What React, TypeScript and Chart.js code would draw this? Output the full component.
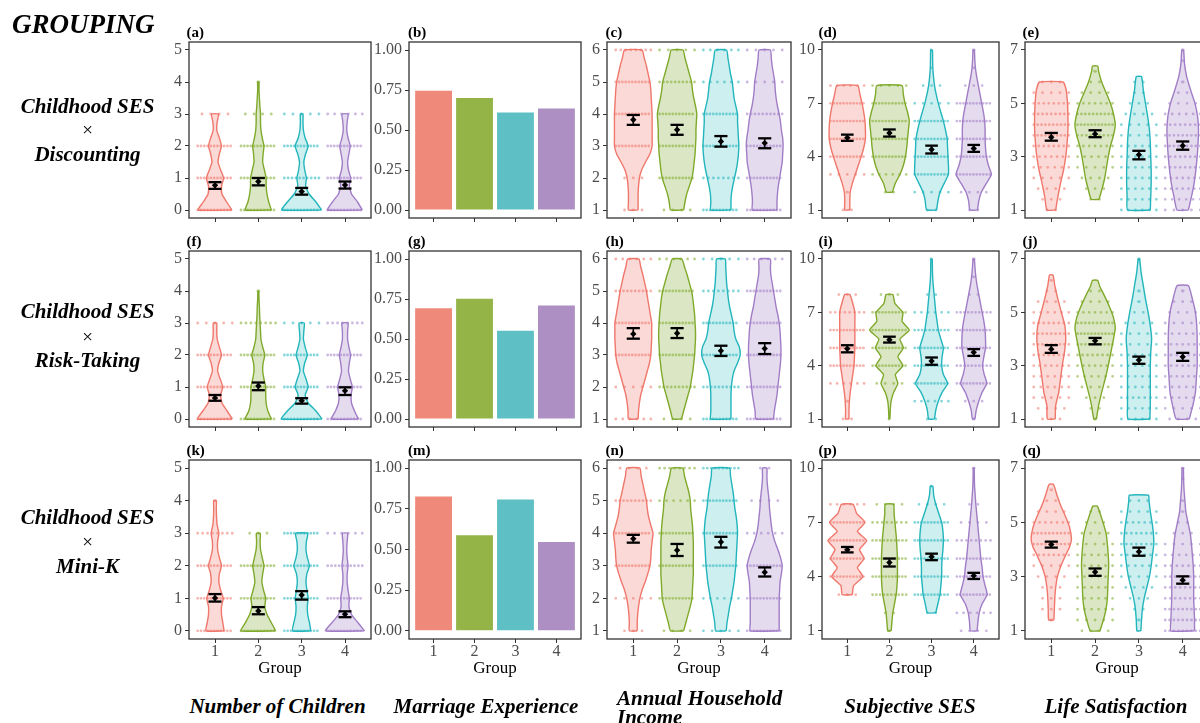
import React, { useEffect, useRef } from 'react';
import { Chart, registerables } from 'chart.js';
Chart.register(...registerables);

const SERIF = "'Liberation Serif', 'Times New Roman', Times, serif";
Chart.defaults.font.family = SERIF;

// ---------- shared ----------
const GROUPS = [1, 2, 3, 4];
const LINE_COLORS = ['#EF776C', '#7FA92B', '#22B5BC', '#A17DC6'];
const FILL_COLORS = ['rgba(239,119,108,0.28)', 'rgba(127,169,43,0.28)', 'rgba(34,181,188,0.22)', 'rgba(161,125,198,0.28)'];
const DOT_COLORS = ['rgba(239,119,108,0.55)', 'rgba(127,169,43,0.55)', 'rgba(34,181,188,0.55)', 'rgba(161,125,198,0.55)'];
const BAR_COLORS = ['#EF8A7B', '#94B447', '#5EC0C4', '#AD8FC3'];

// ---------- Number of Children ----------
const CH_TICKS = [0, 1, 2, 3, 4, 5];
const CH_Y = [0, 0.25, 0.5, 0.75, 1, 1.25, 1.5, 1.75, 2, 2.25, 2.5, 2.75, 3, 3.25, 3.5, 3.75, 4];
const CH_LV = [0, 1, 2, 3, 4];

const A_W = [
  [0.39, 0.27, 0.16, 0.15, 0.2, 0.13, 0.07, 0.1, 0.15, 0.1, 0.04, 0.05, 0.08],
  [0.3, 0.24, 0.2, 0.18, 0.18, 0.14, 0.1, 0.11, 0.13, 0.09, 0.06, 0.05, 0.05, 0.035, 0.025, 0.015, 0.015],
  [0.46, 0.33, 0.17, 0.09, 0.11, 0.07, 0.05, 0.09, 0.15, 0.08, 0.04, 0.03, 0.03],
  [0.4, 0.29, 0.15, 0.1, 0.13, 0.08, 0.06, 0.09, 0.12, 0.07, 0.04, 0.05, 0.07],
];
const A_DOTS = [[45, 30, 14, 4, 0], [40, 18, 28, 4, 1], [45, 10, 14, 5, 0], [45, 14, 12, 6, 0]];
const A_MEAN = [0.77, 0.89, 0.58, 0.78];
const A_LO = [0.66, 0.77, 0.48, 0.67];
const A_HI = [0.87, 1.0, 0.69, 0.89];

const F_W = [
  [0.4, 0.28, 0.16, 0.13, 0.18, 0.12, 0.06, 0.09, 0.15, 0.1, 0.05, 0.04, 0.04],
  [0.3, 0.22, 0.18, 0.17, 0.17, 0.13, 0.1, 0.11, 0.15, 0.1, 0.06, 0.05, 0.04, 0.03, 0.025, 0.015, 0.01],
  [0.47, 0.33, 0.15, 0.08, 0.15, 0.1, 0.04, 0.07, 0.13, 0.08, 0.04, 0.05, 0.06],
  [0.31, 0.22, 0.15, 0.14, 0.17, 0.12, 0.08, 0.1, 0.13, 0.09, 0.06, 0.06, 0.07],
];
const F_DOTS = [[45, 18, 16, 5, 0], [45, 25, 30, 8, 1], [45, 14, 16, 5, 0], [40, 12, 16, 8, 0]];
const F_MEAN = [0.66, 1.03, 0.57, 0.88];
const F_LO = [0.57, 0.9, 0.48, 0.75];
const F_HI = [0.75, 1.14, 0.65, 0.99];

const K_W = [
  [0.21, 0.18, 0.15, 0.15, 0.19, 0.13, 0.09, 0.1, 0.15, 0.1, 0.06, 0.06, 0.09, 0.05, 0.035, 0.03, 0.03],
  [0.4, 0.3, 0.2, 0.15, 0.17, 0.12, 0.08, 0.1, 0.13, 0.09, 0.05, 0.04, 0.045],
  [0.21, 0.18, 0.14, 0.13, 0.15, 0.12, 0.1, 0.12, 0.18, 0.13, 0.1, 0.11, 0.14],
  [0.45, 0.3, 0.15, 0.09, 0.1, 0.07, 0.05, 0.05, 0.07, 0.05, 0.04, 0.05, 0.06],
];
const K_DOTS = [[40, 30, 20, 8, 1], [45, 16, 12, 3, 0], [30, 20, 25, 12, 0], [45, 14, 10, 6, 0]];
const K_MEAN = [1.01, 0.61, 1.1, 0.51];
const K_LO = [0.9, 0.51, 0.96, 0.42];
const K_HI = [1.13, 0.73, 1.22, 0.6];

// ---------- Marriage Experience ----------
const MAR_TICKS = [0, 0.25, 0.5, 0.75, 1];
const B_VAL = [0.745, 0.7, 0.61, 0.635];
const G_VAL = [0.692, 0.752, 0.552, 0.71];
const M_VAL = [0.825, 0.588, 0.807, 0.546];

// ---------- Annual Household Income ----------
const INC_TICKS = [1, 2, 3, 4, 5, 6];
const INC_Y = [1, 1.25, 1.5, 1.75, 2, 2.25, 2.5, 2.75, 3, 3.25, 3.5, 3.75, 4, 4.25, 4.5, 4.75, 5, 5.25, 5.5, 5.75, 6];
const INC_LV = [1, 2, 3, 4, 5, 6];

const C_W = [
  [0.11, 0.11, 0.11, 0.12, 0.14, 0.19, 0.28, 0.38, 0.43, 0.43, 0.43, 0.43, 0.43, 0.42, 0.41, 0.4, 0.38, 0.34, 0.3, 0.25, 0.2],
  [0.15, 0.18, 0.22, 0.28, 0.34, 0.37, 0.39, 0.41, 0.42, 0.43, 0.43, 0.44, 0.45, 0.42, 0.38, 0.35, 0.33, 0.28, 0.23, 0.18, 0.135],
  [0.23, 0.23, 0.24, 0.27, 0.31, 0.35, 0.38, 0.4, 0.41, 0.4, 0.39, 0.38, 0.38, 0.34, 0.3, 0.28, 0.26, 0.22, 0.19, 0.16, 0.13],
  [0.28, 0.28, 0.29, 0.31, 0.34, 0.37, 0.4, 0.41, 0.42, 0.41, 0.38, 0.36, 0.33, 0.29, 0.26, 0.24, 0.23, 0.2, 0.17, 0.15, 0.13],
];
const C_DOTS = [[3, 3, 25, 16, 12, 8], [4, 16, 22, 25, 10, 5], [16, 8, 25, 16, 6, 6], [20, 20, 25, 10, 5, 5]];
const C_MEAN = [3.82, 3.51, 3.14, 3.09];
const C_LO = [3.66, 3.35, 2.98, 2.93];
const C_HI = [3.97, 3.66, 3.31, 3.24];

const H_W = [
  [0.11, 0.12, 0.14, 0.17, 0.22, 0.27, 0.32, 0.37, 0.4, 0.41, 0.42, 0.42, 0.42, 0.39, 0.36, 0.33, 0.3, 0.26, 0.22, 0.17, 0.13],
  [0.1, 0.15, 0.2, 0.25, 0.3, 0.33, 0.36, 0.38, 0.4, 0.41, 0.42, 0.42, 0.41, 0.4, 0.38, 0.36, 0.33, 0.28, 0.23, 0.17, 0.11],
  [0.23, 0.23, 0.23, 0.23, 0.24, 0.26, 0.3, 0.38, 0.44, 0.42, 0.34, 0.3, 0.28, 0.24, 0.2, 0.17, 0.15, 0.13, 0.12, 0.11, 0.1],
  [0.2, 0.22, 0.25, 0.28, 0.3, 0.32, 0.34, 0.36, 0.37, 0.37, 0.36, 0.35, 0.33, 0.3, 0.26, 0.23, 0.2, 0.17, 0.14, 0.13, 0.13],
];
const H_DOTS = [[6, 5, 22, 14, 10, 6], [4, 10, 25, 25, 18, 6], [16, 10, 30, 16, 8, 5], [14, 16, 22, 16, 12, 6]];
const H_MEAN = [3.66, 3.68, 3.13, 3.2];
const H_LO = [3.51, 3.53, 2.97, 3.03];
const H_HI = [3.84, 3.84, 3.29, 3.37];

const N_W = [
  [0.09, 0.09, 0.1, 0.12, 0.15, 0.2, 0.27, 0.33, 0.38, 0.4, 0.41, 0.43, 0.45, 0.4, 0.35, 0.32, 0.3, 0.26, 0.22, 0.18, 0.15],
  [0.15, 0.2, 0.25, 0.3, 0.34, 0.35, 0.36, 0.37, 0.37, 0.37, 0.37, 0.37, 0.36, 0.35, 0.33, 0.31, 0.3, 0.27, 0.22, 0.17, 0.13],
  [0.12, 0.14, 0.17, 0.2, 0.24, 0.27, 0.3, 0.32, 0.34, 0.35, 0.36, 0.37, 0.38, 0.37, 0.35, 0.32, 0.3, 0.28, 0.25, 0.22, 0.2],
  [0.33, 0.33, 0.33, 0.33, 0.33, 0.34, 0.35, 0.38, 0.4, 0.36, 0.3, 0.23, 0.18, 0.15, 0.13, 0.11, 0.1, 0.08, 0.06, 0.05, 0.05],
];
const N_DOTS = [[3, 5, 20, 28, 10, 4], [4, 16, 22, 20, 6, 8], [5, 6, 18, 20, 16, 10], [22, 16, 20, 6, 4, 2]];
const N_MEAN = [3.83, 3.48, 3.73, 2.8];
const N_LO = [3.71, 3.3, 3.56, 2.67];
const N_HI = [3.95, 3.67, 3.89, 2.95];

// ---------- Subjective SES ----------
const SES_TICKS = [1, 4, 7, 10];
const SES_Y = [1, 1.5, 2, 2.5, 3, 3.5, 4, 4.5, 5, 5.5, 6, 6.5, 7, 7.5, 8, 8.5, 9, 9.5, 10];
const SES_LV = [1, 2, 3, 4, 5, 6, 7, 8, 9, 10];

const D_START = [0, 2, 0, 0];
const D_W = [
  [0.06, 0.06, 0.07, 0.12, 0.19, 0.26, 0.33, 0.39, 0.43, 0.43, 0.42, 0.39, 0.35, 0.3, 0.25],
  [0.07, 0.14, 0.25, 0.33, 0.38, 0.41, 0.43, 0.45, 0.47, 0.43, 0.37, 0.33, 0.3],
  [0.12, 0.15, 0.2, 0.3, 0.4, 0.4, 0.39, 0.38, 0.37, 0.33, 0.28, 0.22, 0.16, 0.11, 0.07, 0.045, 0.03, 0.025, 0.02],
  [0.09, 0.12, 0.18, 0.3, 0.42, 0.35, 0.3, 0.28, 0.27, 0.27, 0.26, 0.23, 0.19, 0.15, 0.11, 0.07, 0.04, 0.025, 0.015],
];
const D_DOTS = [
  [2, 1, 5, 14, 20, 22, 12, 6, 0, 0],
  [0, 2, 6, 12, 20, 22, 16, 5, 0, 0],
  [2, 5, 12, 18, 22, 16, 5, 3, 1, 1],
  [2, 4, 28, 16, 16, 16, 12, 3, 1, 1],
];
const D_MEAN = [5.06, 5.33, 4.4, 4.46];
const D_LO = [4.89, 5.13, 4.18, 4.27];
const D_HI = [5.24, 5.53, 4.62, 4.66];

const I_START = [0, 0, 0, 0];
const I_W = [
  [0.04, 0.04, 0.05, 0.07, 0.1, 0.13, 0.16, 0.17, 0.18, 0.18, 0.18, 0.18, 0.18, 0.13, 0.06],
  [0.01, 0.02, 0.04, 0.1, 0.2, 0.14, 0.32, 0.2, 0.33, 0.25, 0.47, 0.3, 0.32, 0.13, 0.08],
  [0.07, 0.1, 0.16, 0.25, 0.38, 0.28, 0.24, 0.25, 0.28, 0.22, 0.16, 0.13, 0.1, 0.08, 0.06, 0.04, 0.025, 0.02, 0.015],
  [0.03, 0.06, 0.12, 0.2, 0.31, 0.25, 0.21, 0.24, 0.28, 0.28, 0.27, 0.24, 0.2, 0.16, 0.12, 0.08, 0.05, 0.03, 0.015],
];
const I_DOTS = [
  [2, 1, 6, 12, 16, 14, 8, 3, 0, 0],
  [1, 0, 4, 14, 22, 25, 14, 3, 0, 0],
  [2, 6, 16, 14, 20, 10, 6, 2, 0, 1],
  [1, 3, 16, 10, 14, 14, 10, 2, 1, 1],
];
const I_MEAN = [4.95, 5.46, 4.26, 4.75];
const I_LO = [4.75, 5.3, 4.05, 4.55];
const I_HI = [5.15, 5.63, 4.46, 4.93];

const P_START = [4, 0, 2, 0];
const P_W = [
  [0.12, 0.15, 0.37, 0.24, 0.4, 0.29, 0.46, 0.24, 0.42, 0.22, 0.14],
  [0.04, 0.06, 0.08, 0.12, 0.16, 0.18, 0.19, 0.19, 0.19, 0.18, 0.17, 0.15, 0.13, 0.11, 0.1],
  [0.1, 0.15, 0.2, 0.22, 0.24, 0.24, 0.25, 0.27, 0.28, 0.27, 0.24, 0.17, 0.1, 0.05, 0.03],
  [0.08, 0.1, 0.13, 0.2, 0.32, 0.27, 0.22, 0.2, 0.17, 0.15, 0.13, 0.11, 0.09, 0.07, 0.05, 0.035, 0.02, 0.015, 0.01],
];
const P_DOTS = [
  [0, 0, 3, 14, 22, 30, 16, 6, 0, 0],
  [1, 2, 10, 12, 18, 10, 8, 4, 0, 0],
  [0, 2, 12, 14, 16, 16, 14, 4, 1, 0],
  [4, 6, 22, 14, 12, 8, 4, 2, 0, 1],
];
const P_MEAN = [5.49, 4.78, 5.1, 4.05];
const P_LO = [5.34, 4.56, 4.91, 3.87];
const P_HI = [5.64, 5.0, 5.27, 4.21];

// ---------- Life Satisfaction ----------
const LS_TICKS = [1, 3, 5, 7];
const LS_LV = [1, 1.4, 1.8, 2.2, 2.6, 3, 3.4, 3.8, 4.2, 4.6, 5, 5.4, 5.8, 6.2, 6.6, 7];

const E_VY = [
  [1, 1.5, 2, 2.5, 3, 3.5, 4, 4.5, 5, 5.5, 5.8],
  [1.4, 1.8, 2.2, 2.6, 3, 3.4, 3.8, 4.2, 4.6, 5, 5.4, 5.8, 6.2, 6.4],
  [1, 1.5, 2, 2.5, 3, 3.5, 4, 4.5, 5, 5.5, 6],
  [1, 1.5, 2, 2.5, 3, 3.5, 4, 4.5, 5, 5.5, 6, 6.5, 7],
];
const E_VW = [
  [0.1, 0.15, 0.21, 0.28, 0.33, 0.36, 0.38, 0.38, 0.37, 0.34, 0.27],
  [0.09, 0.16, 0.22, 0.26, 0.3, 0.35, 0.42, 0.46, 0.42, 0.35, 0.25, 0.15, 0.08, 0.06],
  [0.26, 0.27, 0.28, 0.28, 0.27, 0.26, 0.24, 0.2, 0.15, 0.1, 0.06],
  [0.13, 0.2, 0.26, 0.3, 0.33, 0.35, 0.36, 0.34, 0.28, 0.18, 0.09, 0.04, 0.02],
];
const E_DOTS = [
  [2, 3, 4, 5, 6, 7, 8, 10, 10, 9, 8, 5, 3, 0, 0, 0],
  [0, 2, 3, 4, 5, 6, 7, 9, 11, 10, 7, 4, 2, 1, 0, 0],
  [6, 6, 6, 6, 6, 6, 6, 5, 5, 4, 3, 2, 2, 0, 0, 0],
  [5, 6, 7, 7, 8, 8, 9, 9, 8, 6, 4, 2, 1, 0, 1, 1],
];
const E_MEAN = [3.73, 3.85, 3.07, 3.41];
const E_LO = [3.6, 3.73, 2.9, 3.26];
const E_HI = [3.89, 3.99, 3.22, 3.57];

const J_VY = [
  [1, 1.5, 2, 2.5, 3, 3.5, 4, 4.5, 5, 5.5, 6, 6.4],
  [1, 1.5, 2, 2.5, 3, 3.5, 4, 4.4, 4.8, 5.2, 5.6, 6, 6.2],
  [1, 1.5, 2, 2.5, 3, 3.5, 4, 4.5, 5, 5.5, 6, 6.5, 7],
  [1, 1.5, 2, 2.5, 3, 3.5, 4, 4.5, 5, 5.5, 6],
];
const J_VW = [
  [0.09, 0.1, 0.17, 0.21, 0.25, 0.3, 0.33, 0.31, 0.23, 0.15, 0.08, 0.04],
  [0.03, 0.08, 0.15, 0.23, 0.3, 0.36, 0.42, 0.46, 0.42, 0.33, 0.22, 0.1, 0.06],
  [0.25, 0.26, 0.26, 0.26, 0.26, 0.27, 0.29, 0.26, 0.21, 0.15, 0.1, 0.05, 0.015],
  [0.15, 0.23, 0.29, 0.31, 0.33, 0.33, 0.33, 0.32, 0.29, 0.22, 0.13],
];
const J_DOTS = [
  [3, 4, 5, 6, 6, 7, 8, 9, 9, 8, 6, 4, 2, 1, 0, 0],
  [1, 2, 3, 4, 6, 7, 8, 10, 11, 10, 7, 4, 2, 0, 0, 0],
  [6, 6, 7, 6, 6, 6, 6, 5, 5, 4, 2, 1, 1, 0, 0, 1],
  [4, 5, 6, 6, 7, 7, 7, 7, 6, 5, 4, 3, 1, 0, 0, 0],
];
const J_MEAN = [3.62, 3.93, 3.21, 3.33];
const J_LO = [3.48, 3.8, 3.07, 3.18];
const J_HI = [3.77, 4.04, 3.34, 3.48];

const Q_VY = [
  [1.4, 1.8, 2.2, 2.6, 3, 3.4, 3.8, 4.1, 4.4, 4.8, 5.2, 5.6, 6, 6.4],
  [1, 1.4, 1.8, 2.2, 2.6, 3, 3.4, 3.8, 4.2, 4.6, 5, 5.4, 5.6],
  [1, 1.4, 1.8, 2.2, 2.6, 3, 3.4, 3.8, 4.2, 4.6, 5, 5.4, 5.8, 6],
  [1, 1.4, 1.8, 2.2, 2.6, 3, 3.4, 3.8, 4.2, 4.6, 5, 5.4, 5.8, 6.2, 6.6, 7],
];
const Q_VW = [
  [0.06, 0.07, 0.08, 0.1, 0.14, 0.22, 0.33, 0.42, 0.46, 0.42, 0.33, 0.22, 0.13, 0.05],
  [0.11, 0.19, 0.25, 0.28, 0.29, 0.3, 0.31, 0.3, 0.28, 0.25, 0.18, 0.1, 0.05],
  [0.045, 0.06, 0.08, 0.12, 0.18, 0.24, 0.28, 0.31, 0.34, 0.33, 0.3, 0.26, 0.23, 0.22],
  [0.27, 0.27, 0.26, 0.25, 0.25, 0.25, 0.24, 0.22, 0.2, 0.17, 0.12, 0.07, 0.05, 0.03, 0.02, 0.015],
];
const Q_DOTS = [
  [0, 1, 3, 3, 3, 4, 5, 8, 10, 10, 7, 4, 2, 1, 0, 0],
  [4, 5, 6, 6, 6, 6, 6, 6, 5, 4, 3, 2, 0, 0, 0, 0],
  [0, 1, 2, 3, 4, 5, 6, 7, 8, 8, 7, 5, 3, 0, 0, 0],
  [9, 9, 9, 8, 8, 8, 7, 6, 5, 3, 2, 1, 1, 0, 1, 1],
];
const Q_MEAN = [4.18, 3.17, 3.92, 2.87];
const Q_LO = [4.07, 3.03, 3.77, 2.74];
const Q_HI = [4.29, 3.3, 4.07, 3.01];

// ---------- layout (px) ----------
const COL_L = [189, 409, 607, 822, 1025];
const COL_R = [371, 581, 791, 999, 1209];
const ROW_T = [42, 251, 460];
const ROW_B = [221, 430, 639];
const LETTER_X = [186.5, 408, 605.5, 818.5, 1022.5];
const PANEL_LETTERS = [
  ['(a)', '(b)', '(c)', '(d)', '(e)'],
  ['(f)', '(g)', '(h)', '(i)', '(j)'],
  ['(k)', '(m)', '(n)', '(p)', '(q)'],
];
const ROW_LABELS = [
  ['Childhood SES', '×', 'Discounting'],
  ['Childhood SES', '×', 'Risk-Taking'],
  ['Childhood SES', '×', 'Mini-K'],
];
const ROW_LABEL_Y = [[106, 129.5, 154], [311.5, 336, 360], [517, 541.5, 566]];

// ---------- specs ----------
const sliceGrid = (grid: number[], starts: number[], ws: number[][]) =>
  ws.map((w, g) => grid.slice(starts[g], starts[g] + w.length));
const Z4 = [0, 0, 0, 0];

const chSpec = (w: number[][], dots: number[][], mean: number[], lo: number[], hi: number[]) => ({
  kind: 'violin', vy: sliceGrid(CH_Y, Z4, w), vw: w, lv: CH_LV, dots, mean, lo, hi,
  yMin: -0.25, yMax: 5.25, ticks: CH_TICKS, fmt: (v: number) => String(v),
});
const incSpec = (w: number[][], dots: number[][], mean: number[], lo: number[], hi: number[]) => ({
  kind: 'violin', vy: sliceGrid(INC_Y, Z4, w), vw: w, lv: INC_LV, dots, mean, lo, hi,
  yMin: 0.75, yMax: 6.25, ticks: INC_TICKS, fmt: (v: number) => String(v),
});
const sesSpec = (starts: number[], w: number[][], dots: number[][], mean: number[], lo: number[], hi: number[]) => ({
  kind: 'violin', vy: sliceGrid(SES_Y, starts, w), vw: w, lv: SES_LV, dots, mean, lo, hi,
  yMin: 0.55, yMax: 10.45, ticks: SES_TICKS, fmt: (v: number) => String(v),
});
const lsSpec = (vy: number[][], w: number[][], dots: number[][], mean: number[], lo: number[], hi: number[]) => ({
  kind: 'violin', vy, vw: w, lv: LS_LV, dots, mean, lo, hi,
  yMin: 0.7, yMax: 7.3, ticks: LS_TICKS, fmt: (v: number) => String(v),
});
const barSpec = (vals: number[]) => ({
  kind: 'bar', vals, yMin: -0.05, yMax: 1.05, ticks: MAR_TICKS, fmt: (v: number) => v.toFixed(2),
});

const SPECS: any[][] = [
  [chSpec(A_W, A_DOTS, A_MEAN, A_LO, A_HI), barSpec(B_VAL), incSpec(C_W, C_DOTS, C_MEAN, C_LO, C_HI),
    sesSpec(D_START, D_W, D_DOTS, D_MEAN, D_LO, D_HI), lsSpec(E_VY, E_VW, E_DOTS, E_MEAN, E_LO, E_HI)],
  [chSpec(F_W, F_DOTS, F_MEAN, F_LO, F_HI), barSpec(G_VAL), incSpec(H_W, H_DOTS, H_MEAN, H_LO, H_HI),
    sesSpec(I_START, I_W, I_DOTS, I_MEAN, I_LO, I_HI), lsSpec(J_VY, J_VW, J_DOTS, J_MEAN, J_LO, J_HI)],
  [chSpec(K_W, K_DOTS, K_MEAN, K_LO, K_HI), barSpec(M_VAL), incSpec(N_W, N_DOTS, N_MEAN, N_LO, N_HI),
    sesSpec(P_START, P_W, P_DOTS, P_MEAN, P_LO, P_HI), lsSpec(Q_VY, Q_VW, Q_DOTS, Q_MEAN, Q_LO, Q_HI)],
];

// ---------- chart building ----------
const Y_AXIS_W = 44;
const PAD_TOP = 14;
const PAD_RIGHT = 6;
const X_AXIS_H = [8, 8, 40];

const framePlugin = {
  id: 'frame',
  afterDatasetsDraw(chart: any) {
    const { ctx, chartArea: a } = chart;
    ctx.save();
    ctx.strokeStyle = '#333333';
    ctx.lineWidth = 1.3;
    ctx.strokeRect(a.left, a.top, a.right - a.left, a.bottom - a.top);
    ctx.restore();
  },
};

function makeScales(spec: any, row: number) {
  const bottom = row === 2;
  const tickFont = { family: SERIF, size: 16, lineHeight: 1 };
  const grid = { drawOnChartArea: false, drawTicks: true, tickLength: 4, tickColor: '#333333', color: '#333333', offset: false };
  return {
    x: {
      type: 'linear', min: 0.4, max: 4.6, offset: false,
      afterBuildTicks: (s: any) => { s.ticks = GROUPS.map((v) => ({ value: v })); },
      afterFit: (s: any) => { s.height = X_AXIS_H[row]; },
      grid, border: { display: false },
      ticks: { display: bottom, font: tickFont, color: '#4D4D4D', padding: 1, autoSkip: false, maxRotation: 0, callback: (v: number) => String(v) },
      title: { display: bottom, text: 'Group', font: { family: SERIF, size: 17, lineHeight: 1.2 }, color: '#000000', padding: 0 },
    },
    y: {
      type: 'linear', min: spec.yMin, max: spec.yMax,
      afterBuildTicks: (s: any) => { s.ticks = spec.ticks.map((v: number) => ({ value: v })); },
      afterFit: (s: any) => { s.width = Y_AXIS_W; },
      grid, border: { display: false },
      ticks: { font: tickFont, color: '#4D4D4D', padding: 3, autoSkip: false, callback: (v: number) => spec.fmt(v) },
    },
  };
}

function baseOptions(spec: any, row: number) {
  return {
    responsive: false,
    animation: false,
    events: [],
    layout: { padding: { top: PAD_TOP, right: PAD_RIGHT, left: 0, bottom: 0 } },
    plugins: { legend: { display: false }, tooltip: { enabled: false }, colors: { enabled: false } },
    scales: makeScales(spec, row),
  };
}

function violinConfig(spec: any, row: number, col: number) {
  const ppu = (COL_R[col] - COL_L[col]) / 4.2;
  const datasets: any[] = [];
  spec.vy.forEach((ys: number[], g: number) => {
    const ws = spec.vw[g];
    const cx = GROUPS[g];
    const right = ys.map((y, i) => ({ x: cx + ws[i], y }));
    const left = ys.map((y, i) => ({ x: cx - ws[i], y })).reverse();
    datasets.push({
      data: [...right, ...left, right[0]], showLine: true, fill: 'shape',
      backgroundColor: FILL_COLORS[g], borderColor: LINE_COLORS[g], borderWidth: 1.4,
      pointRadius: 0, tension: 0.15, order: 3,
    });
  });
  spec.dots.forEach((counts: number[], g: number) => {
    counts.forEach((n, i) => {
      if (!n) return;
      const cx = GROUPS[g];
      const y = spec.lv[i];
      const h = n >= 5 ? 0.4 : n === 1 ? 0.01 : 0.1 * (n - 1);
      const L = 2 * h * ppu;
      const period = Math.max(L / (n - 1) - 0.01, 3.3);
      const dash = n === 1 ? [] : [0.01, period - 0.01];
      datasets.push({
        data: [{ x: cx - h, y }, { x: cx + h, y }], showLine: true, fill: false,
        borderColor: DOT_COLORS[g], borderWidth: 2.8, borderCapStyle: 'round', borderDash: dash,
        pointRadius: 0, order: 2,
      });
    });
  });
  GROUPS.forEach((cx, g) => {
    const lo = spec.lo[g];
    const hi = spec.hi[g];
    const common = { showLine: true, fill: false, borderColor: '#000000', pointRadius: 0, order: 1 };
    datasets.push({ ...common, data: [{ x: cx, y: lo }, { x: cx, y: hi }], borderWidth: 1.6 });
    datasets.push({ ...common, data: [{ x: cx - 0.15, y: hi }, { x: cx + 0.15, y: hi }], borderWidth: 2.3 });
    datasets.push({ ...common, data: [{ x: cx - 0.15, y: lo }, { x: cx + 0.15, y: lo }], borderWidth: 2.3 });
  });
  datasets.push({
    data: spec.mean.map((m: number, g: number) => ({ x: GROUPS[g], y: m })), showLine: false,
    pointStyle: 'rectRot', pointRadius: 3.2, backgroundColor: '#000000', borderColor: '#000000', borderWidth: 0, order: 0,
  });
  return { type: 'scatter', data: { datasets }, options: baseOptions(spec, row), plugins: [framePlugin] };
}

function barConfig(spec: any, row: number) {
  return {
    type: 'bar',
    data: {
      datasets: [{
        data: spec.vals.map((v: number, i: number) => ({ x: GROUPS[i], y: v })),
        backgroundColor: BAR_COLORS, borderWidth: 0, barPercentage: 0.9, categoryPercentage: 1,
      }],
    },
    options: baseOptions(spec, row),
    plugins: [framePlugin],
  };
}

function Panel({ row, col }: { row: number; col: number }) {
  const ref = useRef<HTMLCanvasElement>(null);
  const spec = SPECS[row][col];
  const left = COL_L[col] - Y_AXIS_W;
  const top = ROW_T[row] - PAD_TOP;
  const width = COL_R[col] - COL_L[col] + Y_AXIS_W + PAD_RIGHT;
  const height = ROW_B[row] - ROW_T[row] + PAD_TOP + X_AXIS_H[row];
  useEffect(() => {
    const cfg: any = spec.kind === 'bar' ? barConfig(spec, row) : violinConfig(spec, row, col);
    const chart = new Chart(ref.current as HTMLCanvasElement, cfg);
    return () => chart.destroy();
  }, []);
  return (
    <canvas ref={ref} width={width} height={height}
      style={{ position: 'absolute', left, top, width, height }} />
  );
}

const textBase: React.CSSProperties = { position: 'absolute', fontFamily: SERIF, whiteSpace: 'nowrap', color: '#000' };

export default function App() {
  const panels: JSX.Element[] = [];
  for (let r = 0; r < 3; r++) for (let c = 0; c < 5; c++) panels.push(<Panel key={`${r}-${c}`} row={r} col={c} />);
  return (
    <div style={{ position: 'fixed', left: 0, top: 0, width: 1200, height: 723, overflow: 'hidden', background: '#fff' }}>
      {panels}
      <div style={{ ...textBase, left: 12, top: 24.7 - 13.5, fontSize: 27, lineHeight: '27px', fontWeight: 'bold', fontStyle: 'italic' }}>GROUPING</div>
      {PANEL_LETTERS.map((rowL, r) => rowL.map((t, c) => (
        <div key={t} style={{ ...textBase, left: LETTER_X[c], top: ROW_T[r] - 17, fontSize: 15, lineHeight: '15px', fontWeight: 'bold' }}>{t}</div>
      )))}
      {ROW_LABELS.map((lines, r) => lines.map((t, i) => (
        <div key={`${r}-${i}`} style={{
          ...textBase, left: 0, width: 175, textAlign: 'center', top: ROW_LABEL_Y[r][i] - 10.5,
          fontSize: i === 1 ? 19 : 21, lineHeight: '21px', fontWeight: i === 1 ? 'normal' : 'bold', fontStyle: i === 1 ? 'normal' : 'italic',
        }}>{t}</div>
      )))}
      <div style={{ ...textBase, left: 277.5, transform: 'translateX(-50%)', top: 706.5 - 10.5, fontSize: 21, lineHeight: '21px', fontWeight: 'bold', fontStyle: 'italic' }}>Number of Children</div>
      <div style={{ ...textBase, left: 486, transform: 'translateX(-50%)', top: 706.5 - 10.5, fontSize: 21, lineHeight: '21px', fontWeight: 'bold', fontStyle: 'italic' }}>Marriage Experience</div>
      <div style={{ ...textBase, left: 617, top: 698 - 9.5, fontSize: 21, lineHeight: '19px', fontWeight: 'bold', fontStyle: 'italic' }}>Annual Household<br />Income</div>
      <div style={{ ...textBase, left: 910, transform: 'translateX(-50%)', top: 706.5 - 10.5, fontSize: 21, lineHeight: '21px', fontWeight: 'bold', fontStyle: 'italic' }}>Subjective SES</div>
      <div style={{ ...textBase, left: 1116, transform: 'translateX(-50%)', top: 706.5 - 10.5, fontSize: 21, lineHeight: '21px', fontWeight: 'bold', fontStyle: 'italic' }}>Life Satisfaction</div>
    </div>
  );
}
